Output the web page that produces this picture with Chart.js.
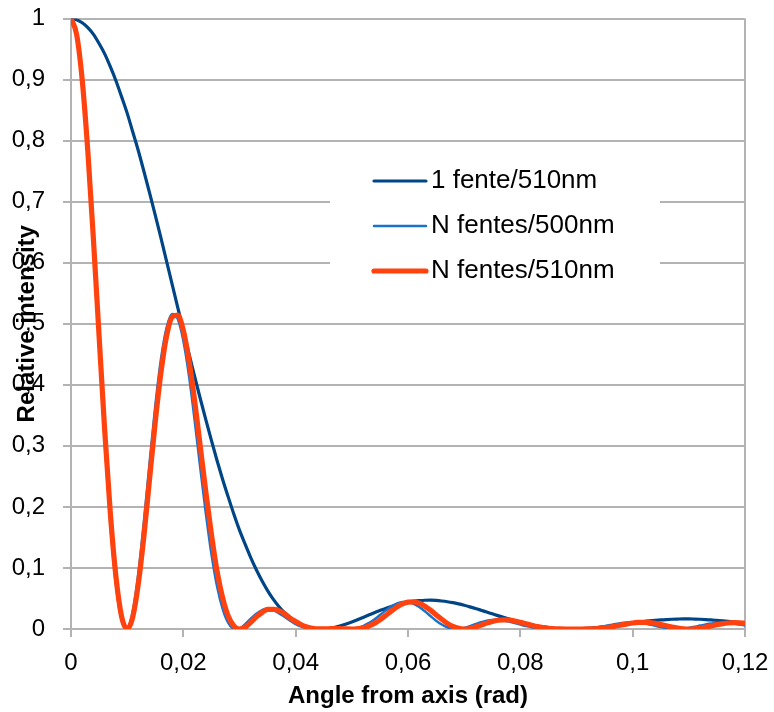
<!DOCTYPE html>
<html><head><meta charset="utf-8">
<script src="https://cdn.jsdelivr.net/npm/chart.js@4.4.1/dist/chart.umd.min.js"></script>
<style>html,body{margin:0;padding:0;background:#fff;}</style>
</head><body>
<canvas id="c" width="774" height="712"></canvas>
<script>
const angles = [0,0.001,0.002,0.003,0.004,0.005,0.006,0.007,0.008,0.009,
0.010,0.011,0.012,0.013,0.014,0.015,0.016,0.017,0.018,0.019,
0.020,0.021,0.022,0.023,0.024,0.025,0.026,0.027,0.028,0.029,
0.030,0.031,0.032,0.033,0.034,0.035,0.036,0.037,0.038,0.039,
0.040,0.041,0.042,0.043,0.044,0.045,0.046,0.047,0.048,0.049,
0.050,0.051,0.052,0.053,0.054,0.055,0.056,0.057,0.058,0.059,
0.060,0.061,0.062,0.063,0.064,0.065,0.066,0.067,0.068,0.069,
0.070,0.071,0.072,0.073,0.074,0.075,0.076,0.077,0.078,0.079,
0.080,0.081,0.082,0.083,0.084,0.085,0.086,0.087,0.088,0.089,
0.090,0.091,0.092,0.093,0.094,0.095,0.096,0.097,0.098,0.099,
0.100,0.101,0.102,0.103,0.104,0.105,0.106,0.107,0.108,0.109,
0.110,0.111,0.112,0.113,0.114,0.115,0.116,0.117,0.118,0.119,0.120];

const single510 = [1,0.998,0.993,0.985,0.974,0.959,0.942,0.921,0.898,0.872,
0.845,0.814,0.783,0.749,0.714,0.678,0.641,0.603,0.565,0.527,
0.489,0.451,0.414,0.378,0.343,0.309,0.276,0.245,0.216,0.188,
0.162,0.139,0.117,0.097,0.079,0.063,0.049,0.037,0.027,0.019,
0.012,0.007,0.0035,0.0012,0.0001,0.0001,0.0011,0.0028,0.0052,0.0082,
0.0115,0.0151,0.0189,0.0228,0.0266,0.0302,0.0337,0.0368,0.0396,0.0420,
0.0440,0.0455,0.0465,0.0471,0.0472,0.0468,0.0459,0.0447,0.0431,0.0411,
0.0388,0.0363,0.0337,0.0308,0.0278,0.0249,0.0219,0.0190,0.0162,0.0135,
0.0110,0.0088,0.0067,0.0049,0.0034,0.0022,0.0012,0.0005,0.0001,0,
0.0001,0.0005,0.0010,0.0018,0.0027,0.0038,0.0049,0.0061,0.0074,0.0086,
0.0099,0.0110,0.0122,0.0132,0.0141,0.0149,0.0155,0.0160,0.0163,0.0165,
0.0165,0.0163,0.0160,0.0155,0.0149,0.0141,0.0133,0.0124,0.0114,0.0103,0.0093];

const multi500 = [1,0.973,0.895,0.774,0.625,0.464,0.308,0.173,0.073,0.014,
0.001,0.029,0.092,0.178,0.273,0.365,0.441,0.493,0.516,0.508,
0.472,0.415,0.343,0.265,0.190,0.123,0.070,0.033,0.010,0.001,
0.001,0.008,0.017,0.025,0.031,0.033,0.031,0.026,0.020,0.0137,
0.0080,0.0038,0.0013,0.0002,0.0001,0.0003,0.0006,0.0005,0.0002,0,
0.0004,0.0019,0.0048,0.0095,0.0156,0.0228,0.0301,0.0367,0.0416,0.0442,
0.0441,0.0412,0.0359,0.0290,0.0212,0.0137,0.0074,0.0028,0.0004,0.0001,
0.0017,0.0045,0.0078,0.0110,0.0135,0.0149,0.0150,0.0140,0.0121,0.0096,
0.0071,0.0047,0.0028,0.0014,0.0006,0.0002,0,0,0,0,
0.0001,0.0003,0.0008,0.0017,0.0030,0.0047,0.0065,0.0083,0.0098,0.0108,
0.0110,0.0105,0.0092,0.0073,0.0052,0.0031,0.0014,0.0003,0,0.0006,
0.0018,0.0036,0.0056,0.0075,0.0091,0.0100,0.0103,0.0099,0.0089,0.0074,0.0058];

const multi510 = [1,0.974,0.899,0.782,0.637,0.480,0.325,0.190,0.086,0.021,
0,0.020,0.075,0.154,0.247,0.339,0.419,0.479,0.511,0.514,
0.489,0.440,0.375,0.300,0.225,0.155,0.095,0.051,0.021,0.005,
0,0.003,0.011,0.020,0.027,0.032,0.032,0.030,0.025,0.018,
0.0122,0.0070,0.0032,0.0010,0.0001,0.0001,0.0004,0.0006,0.0005,0.0002,
0,0.0004,0.0018,0.0047,0.0092,0.0151,0.0220,0.0292,0.0359,0.0410,
0.0440,0.0444,0.0421,0.0374,0.0309,0.0234,0.0159,0.0092,0.0041,0.0010,
0,0.0009,0.0032,0.0063,0.0096,0.0124,0.0143,0.0151,0.0147,0.0132,
0.0110,0.0085,0.0061,0.0039,0.0022,0.0011,0.0004,0.0001,0,0,
0,0,0.0001,0.0004,0.0009,0.0019,0.0032,0.0049,0.0067,0.0084,
0.0099,0.0108,0.0110,0.0105,0.0092,0.0074,0.0054,0.0033,0.0016,0.0004,
0,0.0004,0.0015,0.0032,0.0051,0.0071,0.0087,0.0098,0.0103,0.0101,0.0093];

const xTickLabels = ['0','0,02','0,04','0,06','0,08','0,1','0,12'];
const yTickLabels = ['0','0,1','0,2','0,3','0,4','0,5','0,6','0,7','0,8','0,9','1'];
const seriesNames = ['1 fente/510nm','N fentes/500nm','N fentes/510nm'];
const xTitle = 'Angle from axis (rad)';
const yTitle = 'Relative intensity';

const colors = ['#004586','#1a72cc','#ff420e'];
const widths = [3.2,2.5,5.2];
const FONT = "'Liberation Sans', Arial, sans-serif";
const GRID = '#b3b3b3';

function pts(ys){ return angles.map((a,i)=>({x:a,y:ys[i]})); }

const insideLegend = {
  id:'insideLegend',
  afterDatasetsDraw(chart){
    const ctx = chart.ctx;
    ctx.save();
    ctx.fillStyle = '#ffffff';
    ctx.fillRect(330,150,330,150);
    const rows = [181,226,271];
    chart.data.datasets.forEach((ds,i)=>{
      ctx.strokeStyle = ds.borderColor;
      ctx.lineWidth = ds.borderWidth;
      ctx.lineCap = 'round';
      ctx.beginPath();
      ctx.moveTo(374,rows[i]);
      ctx.lineTo(426,rows[i]);
      ctx.stroke();
      ctx.fillStyle = '#000';
      ctx.font = "26px " + FONT;
      ctx.textBaseline = 'middle';
      ctx.textAlign = 'left';
      ctx.fillText(ds.label,431,rows[i]);
    });
    ctx.restore();
  }
};

new Chart(document.getElementById('c'),{
  type:'line',
  data:{
    datasets:[
      {label:seriesNames[0],data:pts(single510),borderColor:colors[0],borderWidth:widths[0],order:2},
      {label:seriesNames[1],data:pts(multi500),borderColor:colors[1],borderWidth:widths[1],order:1},
      {label:seriesNames[2],data:pts(multi510),borderColor:colors[2],borderWidth:widths[2],order:0}
    ]
  },
  options:{
    responsive:false,
    animation:false,
    devicePixelRatio:1,
    layout:{padding:{top:18.5,right:29,left:0,bottom:0}},
    elements:{point:{radius:0},line:{cubicInterpolationMode:'monotone',fill:false,borderJoinStyle:'round',borderCapStyle:'round'}},
    plugins:{legend:{display:false},tooltip:{enabled:false}},
    scales:{
      x:{
        type:'linear',min:0,max:0.12,
        afterFit(s){ s.height = 83; s.paddingLeft = 0; s.paddingRight = 0; },
        ticks:{stepSize:0.02,padding:12,color:'#000',font:{family:FONT,size:24},
          callback:(v,i)=>xTickLabels[i], maxRotation:0, autoSkip:false},
        grid:{drawOnChartArea:true,color:c=>c.index===6?GRID:'rgba(0,0,0,0)',tickColor:GRID,tickLength:8,lineWidth:2},
        border:{display:true,color:GRID,width:2},
        title:{display:true,text:xTitle,color:'#000',font:{family:FONT,size:24,weight:'bold'},padding:{top:0,bottom:1}}
      },
      y:{
        type:'linear',min:0,max:1,
        afterFit(s){ s.width = 71; s.paddingTop = 0; s.paddingBottom = 0; },
        ticks:{stepSize:0.1,padding:18,color:'#000',font:{family:FONT,size:24},
          callback:(v,i)=>yTickLabels[i], autoSkip:false},
        grid:{color:GRID,tickColor:GRID,tickLength:8,lineWidth:2},
        border:{display:true,color:GRID,width:2},
        title:{display:true,text:yTitle,color:'#000',font:{family:FONT,size:24,weight:'bold'},padding:{top:13,bottom:0}}
      }
    }
  },
  plugins:[insideLegend]
});
</script>
</body></html>
